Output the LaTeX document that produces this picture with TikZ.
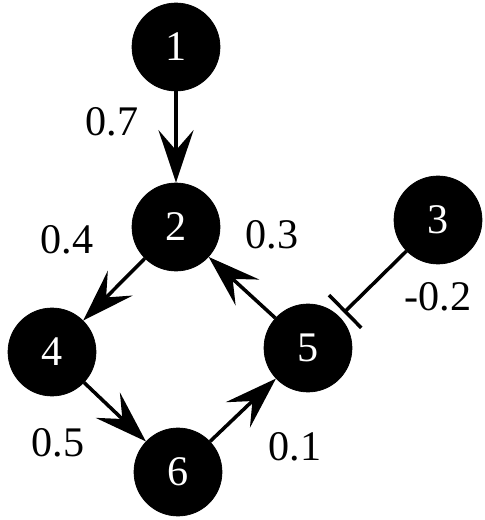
\documentclass[tikz,border=0pt]{standalone}
\usepackage{fontspec}
\setmainfont{LiberationSerif-Regular.ttf}
\usetikzlibrary{arrows.meta}

\begin{document}
\begin{tikzpicture}[
  x=0.02cm, y=-0.02cm,
  gene/.style={circle, fill=black, draw=black, minimum size=1.76cm, inner sep=0pt,
               text=white, font=\rmfamily\fontsize{24}{28}\selectfont},
  weight/.style={font=\rmfamily\fontsize{24}{28}\selectfont},
  act/.style={line width=2pt, -{Stealth[length=1.05cm, width=0.7cm, inset=0.4cm]}},
  inh/.style={line width=2pt, -{Bar[width=0.92cm, line width=2pt]}, shorten >=0.12cm},
]
\useasboundingbox (0,0) rectangle (484,520);

\node[gene] (n1) at (176, 47) {1};
\node[gene] (n2) at (176, 227) {2};
\node[gene] (n3) at (438, 220) {3};
\node[gene] (n4) at (52, 352) {4};
\node[gene] (n5) at (308, 348) {5};
\node[gene] (n6) at (178, 472) {6};

\draw[act] (n1) -- (n2);
\draw[act] (n2) -- (n4);
\draw[act] (n4) -- (n6);
\draw[act] (n6) -- (n5);
\draw[act] (n5) -- (n2);
\draw[inh] (n3) -- (n5);

\node[weight] (w12) at (112, 122) {0.7};
\node[weight] (w24) at (67, 240) {0.4};
\node[weight] (w52) at (272, 235) {0.3};
\node[weight] (w35) at (438, 297) {-0.2};
\node[weight] (w46) at (58, 443) {0.5};
\node[weight] (w65) at (295, 447) {0.1};

\end{tikzpicture}
\end{document}
